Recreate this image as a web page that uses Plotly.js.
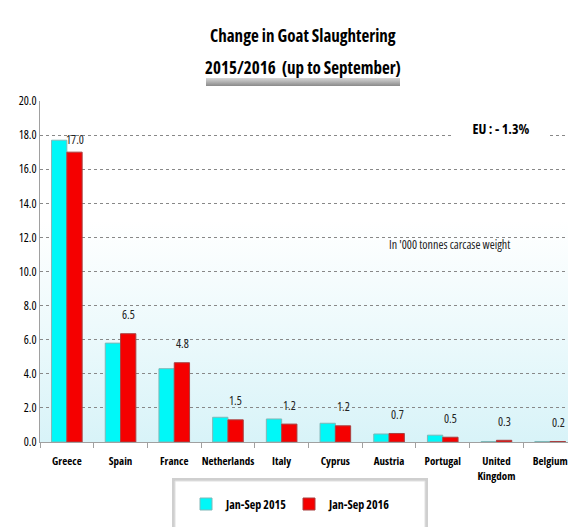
<!DOCTYPE html>
<html><head><meta charset="utf-8">
<script src="https://cdn.plot.ly/plotly-3.0.1.min.js"></script>
<style>
html,body{margin:0;padding:0;overflow:hidden;background:#fff;}
#wrap{position:relative;width:577px;height:527px;}
#bg{position:absolute;left:40px;top:101px;width:537px;height:341px;
background:linear-gradient(to bottom,#ffffff 0%,#ffffff 35%,#eefafc 65%,#d8f3f8 100%);}
#tshadow{position:absolute;left:206px;top:78px;width:194px;height:8px;
background:linear-gradient(to bottom,#d8d8d8,#8a8a8a);}
#chart{position:absolute;left:0;top:0;width:577px;height:527px;}
svg text{font-stretch:75% !important;}
</style></head>
<body><div id="wrap"><div id="bg"></div><div id="tshadow"></div><div id="chart"></div></div>
<script>
const categories = ["Greece","Spain","France","Netherlands","Italy","Cyprus","Austria","Portugal","United<br>Kingdom","Belgium"];
const jan_sep_2015 = [17.7,5.8,4.3,1.45,1.35,1.1,0.47,0.4,0.03,0.03];
const jan_sep_2016 = [17.0,6.35,4.65,1.3,1.05,0.95,0.5,0.28,0.1,0.03];
const labels2016 = ["17.0","6.5","4.8","1.5","1.2","1.2","0.7","0.5","0.3","0.2"];
const yTicks = [0,2,4,6,8,10,12,14,16,18,20];
const titleLines = ["Change in Goat Slaughtering","2015/2016  (up to September)"];

const F = '"Open Sans",Carlito,sans-serif';

const traces = [
  {type:'bar', name:'Jan-Sep 2015', x:categories, y:jan_sep_2015,
   marker:{color:'#00F8F8', line:{color:'#7fb8b8', width:1}}},
  {type:'bar', name:'Jan-Sep 2016', x:categories, y:jan_sep_2016,
   marker:{color:'#F50000', line:{color:'#a84040', width:1}}}
];

const px = v => (v-40)/537, py = v => (442-v)/341;

const annotations = categories.map((c,i)=>({
  x:c, y:jan_sep_2016[i], xref:'x', yref:'y', text:labels2016[i], showarrow:false,
  xshift:8, yshift:i===0?13:19, font:{family:F, size:12, color:'#222'}
}));
titleLines.forEach((t,i)=>annotations.push(
  {xref:'paper', yref:'paper', x:px(303), y:py(i===0?36:67), xanchor:'center', yanchor:'middle',
   text:'<b>'+t+'</b>', showarrow:false, font:{family:F, size:17, color:'#000'}}));
annotations.push(
  {xref:'paper', yref:'paper', x:px(501), y:py(128), xanchor:'center', yanchor:'middle',
   text:'<b>EU : - 1.3%</b>', showarrow:false, bgcolor:'#ffffff', width:92,
   font:{family:F, size:14, color:'#000'}},
  {xref:'paper', yref:'paper', x:px(387), y:py(245), xanchor:'left', yanchor:'middle',
   text:"In '000 tonnes carcase weight", showarrow:false,
   font:{family:F, size:12, color:'#222'}}
);

const shapes = [
  {type:'rect', xref:'paper', yref:'paper', x0:px(172), x1:px(428), y0:py(540), y1:py(478), fillcolor:'#cfcfcf', line:{width:0}},
  {type:'rect', xref:'paper', yref:'paper', x0:px(175), x1:px(425), y0:py(540), y1:py(481), fillcolor:'#ffffff', line:{color:'#e0e0e0', width:1}}
];

const layout = {
  width:577, height:527,
  margin:{l:40, r:0, t:101, b:85},
  paper_bgcolor:'rgba(0,0,0,0)', plot_bgcolor:'rgba(0,0,0,0)',
  barmode:'group', bargap:0.43, bargroupgap:0,
  showlegend:true,
  legend:{orientation:'h', x:px(186), y:py(504), xanchor:'left', yanchor:'middle',
    bgcolor:'rgba(0,0,0,0)', borderwidth:0, entrywidth:58, entrywidthmode:'pixels',
    font:{family:F, size:12, color:'#000', weight:'bold'}, itemwidth:30},
  xaxis:{type:'category', showgrid:false, showline:true, linecolor:'#a0a0a0', linewidth:1,
    ticks:'outside', tickcolor:'#a0a0a0', ticklen:5, tickson:'boundaries', tickangle:0,
    ticklabelstandoff:9,
    tickfont:{family:F, size:11, color:'#000', weight:'bold'}, fixedrange:true},
  yaxis:{range:[0,20], tickvals:yTicks, ticktext:yTicks.map(v=>v.toFixed(1)),
    showgrid:true, gridcolor:'#888', griddash:'dot', gridwidth:1,
    showline:true, linecolor:'#a0a0a0', linewidth:1, ticks:'', zeroline:false,
    tickfont:{family:F, size:12, color:'#000'}, fixedrange:true},
  annotations:annotations, shapes:shapes,
  font:{family:F}
};
Plotly.newPlot('chart', traces, layout, {displayModeBar:false, staticPlot:true});
</script></body></html>
